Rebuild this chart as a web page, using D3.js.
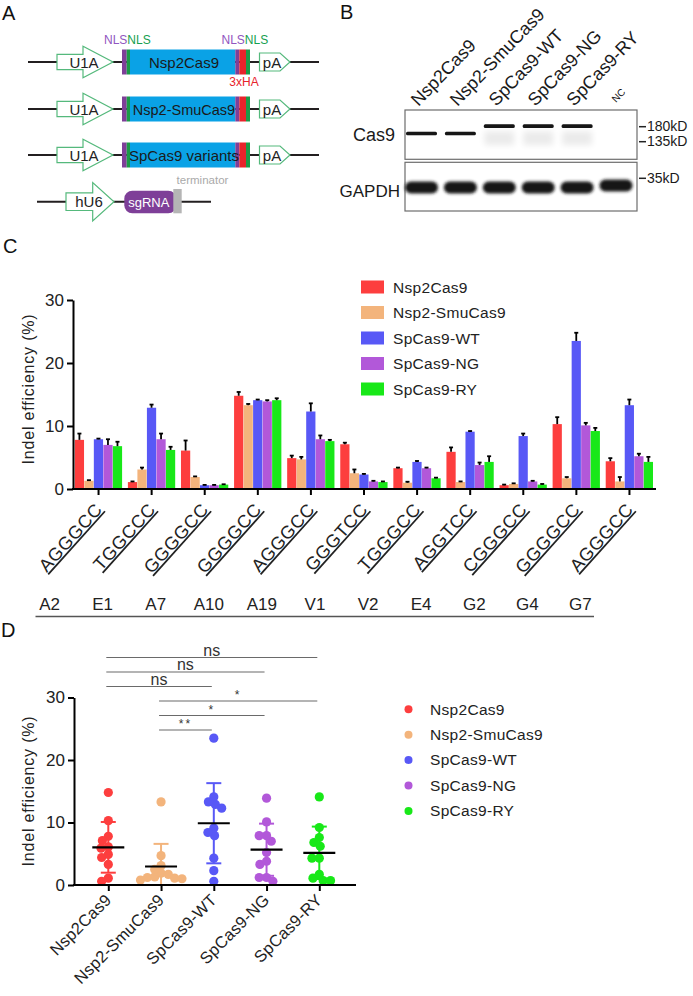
<!DOCTYPE html>
<html>
<head>
<meta charset="utf-8">
<script src="https://cdn.jsdelivr.net/npm/d3@7/dist/d3.min.js"></script>
<style>
  body { margin: 0; background: #fff; }
  text { font-family: "Liberation Sans", Arial, sans-serif; }
</style>
</head>
<body>
<div id="chart-area"></div>
<script>
// ---- data ----
var variants = ["Nsp2Cas9", "Nsp2-SmuCas9", "SpCas9-WT", "SpCas9-NG", "SpCas9-RY"];
var colors = ["#fd3e3e", "#f3b47c", "#5858f6", "#b258d9", "#18e818"];
var sites = ["A2", "E1", "A7", "A10", "A19", "V1", "V2", "E4", "G2", "G4", "G7"];
var pams = ["AGGGCC", "TGGCCC", "GGGGCC", "GGGGCC", "AGGGCC", "GGGTCC", "TGGGCC", "AGGTCC", "CGGGCC", "GGGGCC", "AGGGCC"];

// mean indel efficiency (%) per site
var nsp2Cas9     = [7.8, 1.1, 6.1, 14.8, 4.9, 7.1, 3.3, 5.9, 0.6, 10.3, 4.4];
var nsp2SmuCas9  = [1.3, 3.1, 1.9, 13.3, 4.7, 2.5, 1.0, 1.1, 0.8, 1.7, 1.2];
var spCas9WT     = [7.9, 12.9, 0.6, 14.1, 12.3, 2.3, 4.3, 9.1, 8.4, 23.5, 13.3];
var spCas9NG     = [7.0, 7.9, 0.6, 13.9, 7.9, 1.2, 3.3, 3.8, 1.2, 10.1, 5.2];
var spCas9RY     = [6.8, 6.2, 0.7, 14.1, 7.6, 1.1, 1.7, 4.3, 0.7, 9.2, 4.3];
// upper error (SEM)
var nsp2Cas9Err    = [1.0, 0.1, 1.6, 0.6, 0.4, 0.25, 0.1, 0.7, 0.1, 1.1, 0.5];
var nsp2SmuCas9Err = [0.1, 0.3, 0.1, 0.2, 0.4, 0.6, 0.15, 0.1, 0.1, 0.2, 0.7];
var spCas9WTErr    = [0.1, 0.5, 0.05, 0.1, 1.3, 0.1, 0.15, 0.1, 0.4, 1.3, 0.9];
var spCas9NGErr    = [0.9, 0.9, 0.05, 0.2, 0.6, 0.1, 0.1, 0.4, 0.1, 0.4, 0.4];
var spCas9RYErr    = [0.7, 0.5, 0.05, 0.3, 0.2, 0.1, 0.1, 0.9, 0.1, 0.5, 0.8];

var seriesValues = [nsp2Cas9, nsp2SmuCas9, spCas9WT, spCas9NG, spCas9RY];
var seriesErrors = [nsp2Cas9Err, nsp2SmuCas9Err, spCas9WTErr, spCas9NGErr, spCas9RYErr];
var yTicks = [0, 10, 20, 30];

// significance tests in panel D (bottom to top)
var sigFrom   = [1, 1, 1, 0, 0, 0];
var sigTo     = [2, 3, 4, 2, 3, 4];
var sigLabels = ["**", "*", "*", "ns", "ns", "ns"];

// western blot
var blotLanes = ["Nsp2Cas9", "Nsp2-SmuCas9", "SpCas9-WT", "SpCas9-NG", "SpCas9-RY", "NC"];
var cas9Kd    = [158, 158, 182, 182, 182, null];
var gapdhKd   = [32, 32, 32, 32, 32, 32.6];
var topMarkers = [180, 135];
var bottomMarkers = [35];

var font = "'Liberation Sans', Arial, sans-serif";

var svg = d3.select("#chart-area").append("svg")
    .attr("width", 693)
    .attr("height", 996)
    .style("display", "block");

svg.append("rect").attr("width", 693).attr("height", 996).attr("fill", "#fff");

var defs = svg.append("defs");
[["b1", 0.7], ["b2", 1.4], ["b3", 3]].forEach(function (f) {
    defs.append("filter").attr("id", f[0]).attr("x", "-50%").attr("y", "-100%")
        .attr("width", "200%").attr("height", "300%")
        .append("feGaussianBlur").attr("stdDeviation", f[1]);
});

// panel letters
[["A", 2, 20], ["B", 340, 19], ["C", 3, 253], ["D", 1, 637]].forEach(function (p) {
    svg.append("text").attr("x", p[1]).attr("y", p[2]).text(p[0])
        .attr("font-size", "20px").attr("fill", "#111");
});

// ================= Panel A: constructs =================
var gA = svg.append("g");
var arrowGreen = "#55b97c";
var constructs = ["Nsp2Cas9", "Nsp2-SmuCas9", "SpCas9 variants"];
var rowY = [62, 109, 155];

function promoter(g, x0, x1, tip, cy, bh, hh, label) {
    g.append("path")
        .attr("d", `M${x0},${cy - bh}H${x1}V${cy - hh}L${tip},${cy}L${x1},${cy + hh}V${cy + bh}H${x0}Z`)
        .attr("fill", "#fff").attr("stroke", arrowGreen).attr("stroke-width", 1.2);
    g.append("text").attr("x", (x0 + tip) / 2 - 1).attr("y", cy + 5.5)
        .attr("text-anchor", "middle").attr("font-size", "15px").attr("fill", "#222").text(label);
}

constructs.forEach(function (name, i) {
    var cy = rowY[i];
    gA.append("line").attr("x1", 28).attr("x2", 319).attr("y1", cy).attr("y2", cy)
        .attr("stroke", "#231f20").attr("stroke-width", 2);
    promoter(gA, 57, 83, 113, cy, 7.7, 15.7, "U1A");
    var segs = [[122, 126.7, "#7e3f98"], [126.7, 130, "#1a9a48"], [130, 235.3, "#0aa2e6"],
                [235.3, 239.3, "#7e3f98"], [239.3, 246, "#e8232b"], [246, 250, "#1a9a48"]];
    segs.forEach(function (s) {
        gA.append("rect").attr("x", s[0]).attr("y", cy - 12.5).attr("width", s[1] - s[0])
            .attr("height", 25).attr("fill", s[2]);
    });
    gA.append("text").attr("x", 184).attr("y", cy + 5.5).attr("text-anchor", "middle")
        .attr("font-size", i === 1 ? "14.5px" : "15px").attr("fill", "#1a1a1a").text(name);
    gA.append("path")
        .attr("d", `M259.5,${cy - 9}H280L290,${cy}L280,${cy + 9}H259.5Z`)
        .attr("fill", "#fff").attr("stroke", arrowGreen).attr("stroke-width", 1.2);
    gA.append("text").attr("x", 272).attr("y", cy + 5.5).attr("text-anchor", "middle")
        .attr("font-size", "15px").attr("fill", "#222").text("pA");
});

[104, 221.5].forEach(function (x) {
    var t = gA.append("text").attr("x", x).attr("y", 44).attr("font-size", "12px");
    t.append("tspan").attr("fill", "#9156c0").text("NLS");
    t.append("tspan").attr("fill", "#16a050").text("NLS");
});
gA.append("text").attr("x", 244).attr("y", 86).attr("text-anchor", "middle")
    .attr("font-size", "12px").attr("fill", "#e8232b").text("3xHA");

// sgRNA cassette
gA.append("line").attr("x1", 37).attr("x2", 211).attr("y1", 201.7).attr("y2", 201.7)
    .attr("stroke", "#231f20").attr("stroke-width", 2);
promoter(gA, 66, 92.7, 114, 201.7, 8.8, 19.2, "hU6");
gA.append("rect").attr("x", 124.3).attr("y", 190.7).attr("width", 52).attr("height", 22.6)
    .attr("rx", 8).attr("fill", "#7e3f98");
gA.append("rect").attr("x", 173.3).attr("y", 189).attr("width", 8.4).attr("height", 24.3)
    .attr("fill", "#b5b5b5");
gA.append("text").attr("x", 148.8).attr("y", 206.5).attr("text-anchor", "middle")
    .attr("font-size", "13px").attr("fill", "#fff").text("sgRNA");
gA.append("text").attr("x", 202.5).attr("y", 184).attr("text-anchor", "middle")
    .attr("font-size", "11.5px").attr("fill", "#aaa").text("terminator");

// ================= Panel B: western blot =================
var gB = svg.append("g");
var lane = d3.scalePoint().domain(blotLanes).range([421.5, 616]);
var kdTop = d3.scaleLog().domain([135, 180]).range([141.7, 126.7]);
var kdBottom = d3.scaleLog().domain([35, 30]).range([178.3, 194]);

gB.append("rect").attr("x", 405).attr("y", 110).attr("width", 232).attr("height", 49.3)
    .attr("fill", "#fff").attr("stroke", "#6d6d6d").attr("stroke-width", 1.2);
gB.append("rect").attr("x", 405).attr("y", 162.3).attr("width", 232).attr("height", 48.7)
    .attr("fill", "#fff").attr("stroke", "#6d6d6d").attr("stroke-width", 1.2);

// faint smear under SpCas9 bands
blotLanes.forEach(function (l, i) {
    if (cas9Kd[i] && cas9Kd[i] > 170) {
        gB.append("rect").attr("x", lane(l) - 15).attr("y", kdTop(cas9Kd[i]) + 5)
            .attr("width", 30).attr("height", 14).attr("fill", "#000").attr("opacity", 0.08)
            .attr("filter", "url(#b3)");
    }
});
gB.selectAll(".cas9band")
    .data(blotLanes.filter(function (l, i) { return cas9Kd[i]; }))
    .enter().append("rect")
    .attr("x", function (d) { return lane(d) - 15.5; })
    .attr("y", function (d) { return kdTop(cas9Kd[blotLanes.indexOf(d)]) - 1.8; })
    .attr("width", 31).attr("height", 3.6).attr("rx", 1.5)
    .attr("fill", "#161616").attr("filter", "url(#b1)");

gB.selectAll(".gapdh")
    .data(blotLanes).enter().append("rect")
    .attr("x", function (d) { return lane(d) - 16.5; })
    .attr("y", function (d, i) { return kdBottom(gapdhKd[i]) - 6; })
    .attr("width", 33).attr("height", 12).attr("rx", 6)
    .attr("fill", "#141414").attr("filter", "url(#b2)");

blotLanes.forEach(function (l, i) {
    var isNC = l === "NC";
    gB.append("text")
        .attr("transform", `translate(${lane(l) - (isNC ? 0 : 3)},${isNC ? 103 : 107}) rotate(-46)`)
        .attr("font-size", isNC ? "10px" : "18px").attr("fill", "#1a1a1a").text(l);
});

gB.append("text").attr("x", 395).attr("y", 141).attr("text-anchor", "end")
    .attr("font-size", "18px").attr("fill", "#1a1a1a").text("Cas9");
gB.append("text").attr("x", 400).attr("y", 197).attr("text-anchor", "end")
    .attr("font-size", "17px").attr("fill", "#1a1a1a").text("GAPDH");

topMarkers.forEach(function (m) {
    gB.append("line").attr("x1", 639).attr("x2", 646).attr("y1", kdTop(m)).attr("y2", kdTop(m))
        .attr("stroke", "#222").attr("stroke-width", 1.5);
    gB.append("text").attr("x", 647).attr("y", kdTop(m) + 4.5).attr("font-size", "14px")
        .attr("fill", "#1a1a1a").text(m + "kD");
});
bottomMarkers.forEach(function (m) {
    gB.append("line").attr("x1", 639).attr("x2", 646).attr("y1", kdBottom(m)).attr("y2", kdBottom(m))
        .attr("stroke", "#222").attr("stroke-width", 1.5);
    gB.append("text").attr("x", 647).attr("y", kdBottom(m) + 4.5).attr("font-size", "14px")
        .attr("fill", "#1a1a1a").text(m + "kD");
});

// ================= Panel C: grouped bars =================
var gC = svg.append("g");
var x0 = d3.scaleBand().domain(sites).range([72, 656]);
var x1 = d3.scaleBand().domain(variants).range([2.8, x0.bandwidth() - 3]).paddingInner(0.03);
var yC = d3.scaleLinear().domain([0, 30]).range([489, 300]);

var barData = [];
sites.forEach(function (s, i) {
    variants.forEach(function (v, j) {
        barData.push({ site: s, variant: v, value: seriesValues[j][i], err: seriesErrors[j][i], color: colors[j] });
    });
});

gC.selectAll(".bar").data(barData).enter().append("rect")
    .attr("x", function (d) { return x0(d.site) + x1(d.variant); })
    .attr("y", function (d) { return yC(d.value); })
    .attr("width", x1.bandwidth())
    .attr("height", function (d) { return yC(0) - yC(d.value); })
    .attr("fill", function (d) { return d.color; });

var errG = gC.selectAll(".err").data(barData).enter().append("g")
    .attr("transform", function (d) { return `translate(${x0(d.site) + x1(d.variant) + x1.bandwidth() / 2},0)`; });
errG.append("line")
    .attr("y1", function (d) { return yC(d.value); })
    .attr("y2", function (d) { return yC(d.value + d.err); })
    .attr("stroke", "#000").attr("stroke-width", 1.8);
errG.append("line").attr("x1", -2).attr("x2", 2)
    .attr("y1", function (d) { return yC(d.value + d.err); })
    .attr("y2", function (d) { return yC(d.value + d.err); })
    .attr("stroke", "#000").attr("stroke-width", 1.8);

var yAxisC = gC.append("g").attr("transform", "translate(73,0)")
    .call(d3.axisLeft(yC).tickValues(yTicks).tickSize(6).tickSizeOuter(0));
var xAxisC = gC.append("g").attr("transform", "translate(0,489)")
    .call(d3.axisBottom(x0).tickSize(6).tickSizeOuter(0).tickFormat(""));
[yAxisC, xAxisC].forEach(function (a) {
    a.selectAll("path,line").attr("stroke", "#000").attr("stroke-width", 2);
    a.selectAll("text").attr("font-family", font).attr("font-size", "17px").attr("fill", "#222");
});
xAxisC.select(".domain").attr("d", "M72,0H656");

// rotated underlined PAM labels
gC.selectAll(".pam").data(sites).enter().append("text")
    .attr("transform", function (d) { return `translate(${x0(d) + x0.bandwidth() / 2 + 5},510) rotate(-48)`; })
    .attr("text-anchor", "end")
    .attr("font-size", "18px")
    .attr("letter-spacing", "0.8px")
    .attr("fill", "#222")
    .style("text-decoration", "underline")
    .text(function (d, i) { return pams[i]; });

gC.selectAll(".site").data(sites).enter().append("text")
    .attr("x", function (d) { return x0(d) + x0.bandwidth() / 2 - 49; })
    .attr("y", 610)
    .attr("text-anchor", "middle")
    .attr("font-size", "17px").attr("fill", "#222")
    .text(function (d) { return d; });
gC.append("line").attr("x1", 35.5).attr("x2", 594).attr("y1", 616.5).attr("y2", 616.5)
    .attr("stroke", "#555").attr("stroke-width", 1.5);

gC.append("text")
    .attr("transform", "translate(34,389) rotate(-90)")
    .attr("text-anchor", "middle").attr("font-size", "16px").attr("letter-spacing", "0.8px")
    .attr("fill", "#222").text("Indel efficiency (%)");

// legend C
variants.forEach(function (v, i) {
    var ly = 287 + i * 25.5;
    gC.append("rect").attr("x", 361).attr("y", ly - 6.5).attr("width", 23).attr("height", 13)
        .attr("fill", colors[i]);
    gC.append("text").attr("x", 393).attr("y", ly + 5.5).attr("font-size", "15.5px")
        .attr("letter-spacing", "0.3px").attr("fill", "#222").text(v);
});

// ================= Panel D: scatter dot plot =================
var gD = svg.append("g");
var xD = d3.scalePoint().domain(variants).range([108.3, 319.3]);
var yD = d3.scaleLinear().domain([0, 30]).range([885, 697.5]);
var dotR = 4.6;

// simple beeswarm: smallest horizontal offset, dots may touch/overlap a little
function swarm(vals) {
    var D = 2 * dotR * 0.8;
    var placed = [];
    var order = vals.map(function (v, i) { return i; })
        .sort(function (a, b) { return vals[b] - vals[a]; });
    var offs = new Array(vals.length);
    order.forEach(function (i) {
        var py = yD(vals[i]);
        var cands = [0];
        placed.forEach(function (p) {
            var dy = Math.abs(p[1] - py);
            if (dy < D) {
                var dx = Math.sqrt(D * D - dy * dy);
                cands.push(p[0] + dx, p[0] - dx);
            }
        });
        cands.sort(function (a, b) { return Math.abs(a) - Math.abs(b) || a - b; });
        for (var k = 0; k < cands.length; k++) {
            var c = cands[k];
            var ok = placed.every(function (p) { return Math.hypot(p[0] - c, p[1] - py) >= D - 1e-6; });
            if (ok) { offs[i] = c; placed.push([c, py]); break; }
        }
    });
    return offs;
}

variants.forEach(function (v, j) {
    var vals = seriesValues[j];
    var cx = xD(v);
    var mean = d3.mean(vals);
    var sd = d3.deviation(vals);
    var lo = Math.max(0, mean - sd);
    var g = gD.append("g");
    g.append("line").attr("x1", cx).attr("x2", cx).attr("y1", yD(lo)).attr("y2", yD(mean + sd))
        .attr("stroke", colors[j]).attr("stroke-width", 2);
    g.append("line").attr("x1", cx - 7.5).attr("x2", cx + 7.5).attr("y1", yD(mean + sd)).attr("y2", yD(mean + sd))
        .attr("stroke", colors[j]).attr("stroke-width", 2);
    if (mean - sd > 0) {
        g.append("line").attr("x1", cx - 7.5).attr("x2", cx + 7.5).attr("y1", yD(mean - sd)).attr("y2", yD(mean - sd))
            .attr("stroke", colors[j]).attr("stroke-width", 2);
    }
    var offs = swarm(vals);
    g.selectAll("circle").data(vals).enter().append("circle")
        .attr("cx", function (d, i) { return cx + offs[i]; })
        .attr("cy", function (d) { return yD(d); })
        .attr("r", dotR)
        .attr("fill", colors[j]);
    g.append("line").attr("x1", cx - 16).attr("x2", cx + 16).attr("y1", yD(mean)).attr("y2", yD(mean))
        .attr("stroke", "#000").attr("stroke-width", 2.2);
});

var yAxisD = gD.append("g").attr("transform", "translate(74,0)")
    .call(d3.axisLeft(yD).tickValues(yTicks).tickSize(6).tickSizeOuter(0));
var xAxisD = gD.append("g").attr("transform", "translate(0,885)")
    .call(d3.axisBottom(xD).tickSize(6).tickSizeOuter(0).tickFormat(""));
[yAxisD, xAxisD].forEach(function (a) {
    a.selectAll("path,line").attr("stroke", "#000").attr("stroke-width", 2);
    a.selectAll("text").attr("font-family", font).attr("font-size", "17px").attr("fill", "#222");
});
xAxisD.select(".domain").attr("d", "M73,0H356");

gD.selectAll(".xlab").data(variants).enter().append("text")
    .attr("transform", function (d) { return `translate(${xD(d) + 4},901) rotate(-45)`; })
    .attr("text-anchor", "end").attr("font-size", "16.5px").attr("letter-spacing", "0.2px")
    .attr("fill", "#222").text(function (d) { return d; });

gD.append("text")
    .attr("transform", "translate(34,791) rotate(-90)")
    .attr("text-anchor", "middle").attr("font-size", "16px").attr("letter-spacing", "0.8px")
    .attr("fill", "#222").text("Indel efficiency (%)");

// significance brackets
sigLabels.forEach(function (lab, k) {
    var ly = yD(24.8 + k * 2.32);
    var xa = xD(variants[sigFrom[k]]) - 2, xb = xD(variants[sigTo[k]]) - 2;
    gD.append("line").attr("x1", xa).attr("x2", xb).attr("y1", ly).attr("y2", ly)
        .attr("stroke", "#6a6a6a").attr("stroke-width", 1.2);
    var isNs = lab === "ns";
    gD.append("text").attr("x", (xa + xb) / 2).attr("y", ly - 2)
        .attr("text-anchor", "middle")
        .attr("font-size", isNs ? "16px" : "12px")
        .attr("letter-spacing", isNs ? "0px" : "2px")
        .attr("fill", "#333").text(lab);
});

// legend D
variants.forEach(function (v, i) {
    var ly = 709.3 + i * 25.4;
    gD.append("circle").attr("cx", 408.5).attr("cy", ly).attr("r", 4).attr("fill", colors[i]);
    gD.append("text").attr("x", 430).attr("y", ly + 5.3).attr("font-size", "15.5px")
        .attr("letter-spacing", "0.3px").attr("fill", "#222").text(v);
});
</script>
</body>
</html>
